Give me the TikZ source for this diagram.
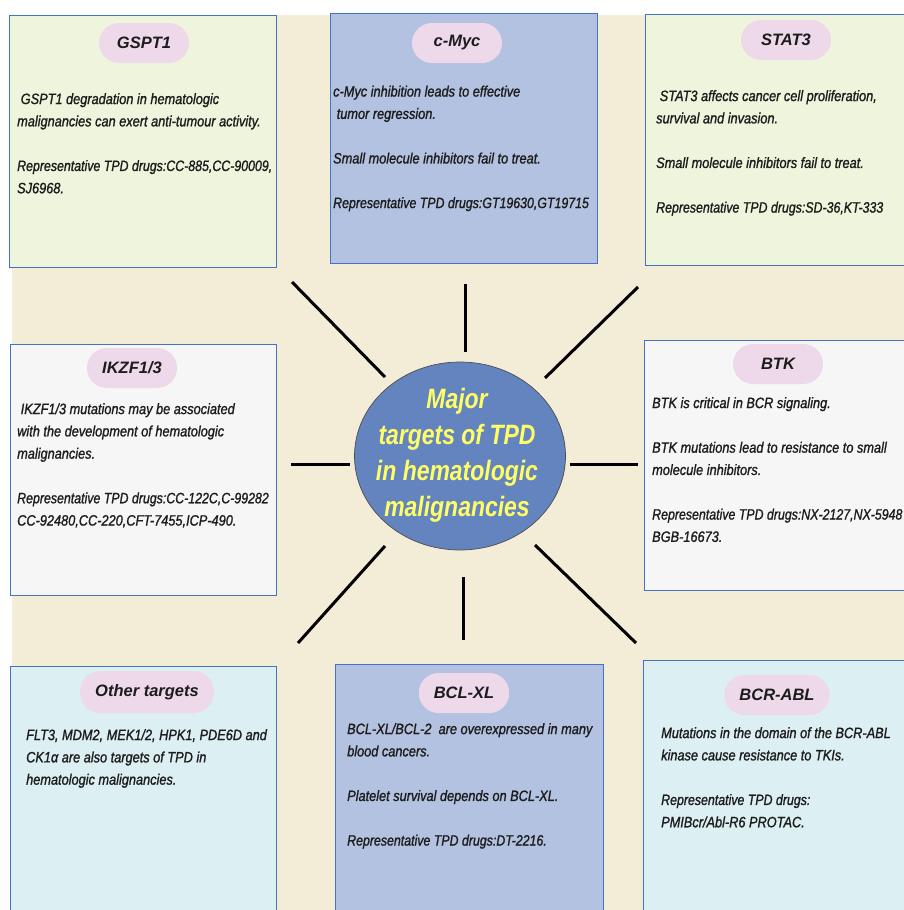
\documentclass[tikz,border=0pt]{standalone}
\usepackage{fontspec}
\setmainfont{Liberation Sans}
\newfontfamily\narrowfont[FakeStretch=0.82]{Liberation Sans}
\newfontfamily\bodyfont[FakeStretch=0.85, FakeBold=1.2]{Liberation Sans}
\usepackage{graphicx}
\usepackage{tikz}
\usetikzlibrary{shapes.geometric}

\newcommand{\drugline}[1]{\scalebox{0.97}[1]{#1}}

\definecolor{beige}{HTML}{F3EDD8}
\definecolor{greenbox}{HTML}{EFF5DD}
\definecolor{bluebox}{HTML}{B3C2E0}
\definecolor{greybox}{HTML}{F6F6F6}
\definecolor{cyanbox}{HTML}{DCEFF2}
\definecolor{pillpink}{HTML}{EED9EA}
\definecolor{boxline}{HTML}{4472C4}
\definecolor{hubblue}{HTML}{6384BF}
\definecolor{hubtext}{HTML}{FFFF66}
\definecolor{inktext}{HTML}{1C1C1C}

\tikzset{
	targetbox/.style={draw=boxline, line width=1.4pt, anchor=north west, inner sep=0pt},
	pill/.style={fill=pillpink, rounded corners=20pt, minimum width=90pt, minimum height=40pt, inner xsep=15pt, text=inktext, font=\bfseries\itshape\fontsize{16.5}{20}\selectfont},
	bodytext/.style={anchor=north west, inner sep=0pt, align=left, text=inktext, font=\bodyfont\itshape\fontsize{15}{22.3}\selectfont, execute at begin node={\rule{0pt}{15pt}}},
	spoke/.style={line width=3pt, black}
}

\begin{document}
\begin{tikzpicture}[x=1pt, y=-1pt]
	\useasboundingbox (0,0) rectangle (904,910);
	\clip (0,0) rectangle (904,910);
	\fill[white] (0,0) rectangle (904,910);
	\fill[beige] (12,15) rectangle (904,910);

	\node[targetbox, fill=greenbox, minimum width=267pt, minimum height=252pt] (gsptbox) at (9,15) {};
	\node[targetbox, fill=bluebox, minimum width=267pt, minimum height=250pt] (mycbox) at (330,13) {};
	\node[targetbox, fill=greenbox, minimum width=280pt, minimum height=251pt] (statbox) at (645,14) {};
	\node[targetbox, fill=greybox, minimum width=266pt, minimum height=251pt] (ikzfbox) at (10,344) {};
	\node[targetbox, fill=greybox, minimum width=280pt, minimum height=250pt] (btkbox) at (644,340) {};
	\node[targetbox, fill=cyanbox, minimum width=266pt, minimum height=260pt] (otherbox) at (10,666) {};
	\node[targetbox, fill=bluebox, minimum width=268pt, minimum height=260pt] (bclbox) at (335,664) {};
	\node[targetbox, fill=cyanbox, minimum width=280pt, minimum height=260pt] (bcrbox) at (643,660) {};

	\node[pill] (gsptlabel) at (144,43) {GSPT1};
	\node[pill] (myclabel) at (457,43) {c-Myc};
	\node[pill] (statlabel) at (786,40) {STAT3};
	\node[pill] (ikzflabel) at (132,368) {IKZF1/3};
	\node[pill] (btklabel) at (778,364) {BTK};
	\node[pill, minimum height=42pt] (otherlabel) at (147,692) {Other targets};
	\node[pill] (bcllabel) at (464,693) {BCL-XL};
	\node[pill] (bcrlabel) at (777,695) {BCR-ABL};

	\node[bodytext] (gspttext) at (17,93) {\ GSPT1 degradation in hematologic\\malignancies can exert anti-tumour activity.\\[22.3pt]\drugline{Representative TPD drugs:CC-885,CC-90009,}\\SJ6968.};
	\node[bodytext] (myctext) at (333,85.5) {c-Myc inhibition leads to effective\\\ tumor regression.\\[22.3pt]Small molecule inhibitors fail to treat.\\[22.3pt]\drugline{Representative TPD drugs:GT19630,GT19715}};
	\node[bodytext] (stattext) at (656,90) {\ STAT3 affects cancer cell proliferation,\\survival and invasion.\\[22.3pt]Small molecule inhibitors fail to treat.\\[22.3pt]\drugline{Representative TPD drugs:SD-36,KT-333}};
	\node[bodytext] (ikzftext) at (17,403) {\ IKZF1/3 mutations may be associated\\with the development of hematologic\\malignancies.\\[22.3pt]\drugline{Representative TPD drugs:CC-122C,C-99282}\\CC-92480,CC-220,CFT-7455,ICP-490.};
	\node[bodytext] (btktext) at (652,397) {BTK is critical in BCR signaling.\\[22.3pt]BTK mutations lead to resistance to small\\molecule inhibitors.\\[22.3pt]\drugline{Representative TPD drugs:NX-2127,NX-5948}\\BGB-16673.};
	\node[bodytext] (othertext) at (26,729) {FLT3, MDM2, MEK1/2, HPK1, PDE6D and\\CK1α are also targets of TPD in\\hematologic malignancies.};
	\node[bodytext] (bcltext) at (347,723) {BCL-XL/BCL-2\ \ are overexpressed in many\\blood cancers.\\[22.3pt]Platelet survival depends on BCL-XL.\\[22.3pt]\drugline{Representative TPD drugs:DT-2216.}};
	\node[bodytext] (bcrtext) at (661,727) {Mutations in the domain of the BCR-ABL\\kinase cause resistance to TKIs.\\[22.3pt]\drugline{Representative TPD drugs:}\\PMIBcr/Abl-R6 PROTAC.};

	\foreach \n/\xa/\ya/\xb/\yb in {1/292/282/385/377, 2/465/284/465/352, 3/638/287/545/378, 4/291/464/350/464, 5/570/464/638/464, 6/385/546/298/643, 7/463/577/463/640, 8/535/545/636/643}{
		\coordinate (spoke\n in) at (\xb,\yb);
		\coordinate (spoke\n out) at (\xa,\ya);
		\draw[spoke] (spoke\n out) -- (spoke\n in);
	}

	\node[ellipse, fill=hubblue, draw=black!70, line width=0.7pt, minimum width=211pt, minimum height=188pt, inner sep=0pt] (hub) at (460,456) {};
	\node[align=center, text=hubtext, font=\narrowfont\bfseries\itshape\fontsize{28}{36}\selectfont] (hubtext) at (457,455) {Major\\targets of TPD\\in hematologic\\malignancies};
\end{tikzpicture}
\end{document}
